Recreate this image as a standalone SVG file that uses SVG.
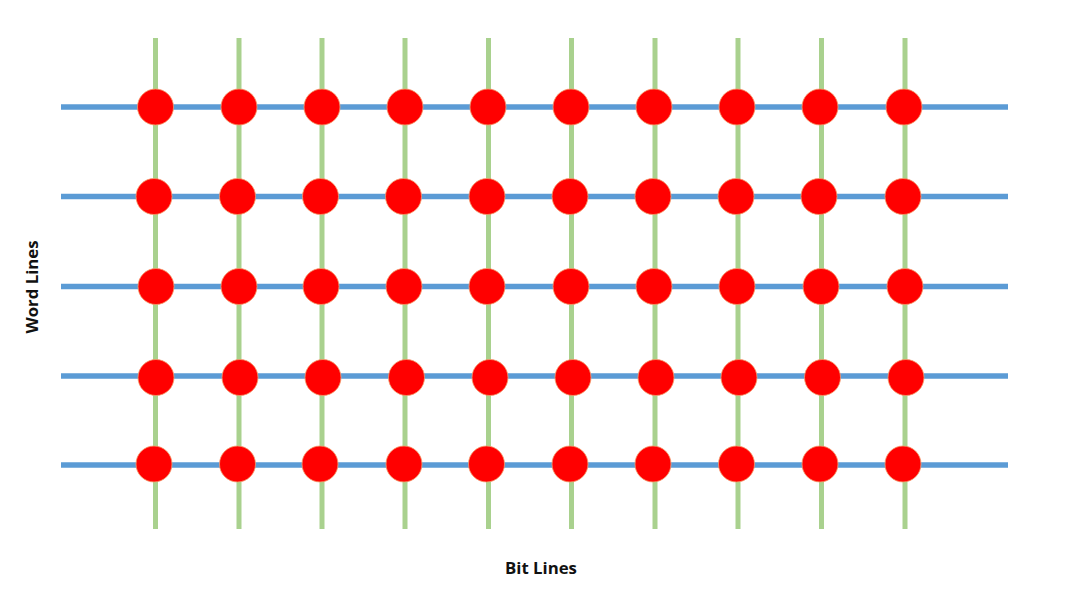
<svg xmlns="http://www.w3.org/2000/svg" width="1080" height="608" viewBox="0 0 1080 608">
<style>
.bit{stroke:#A9D18E;stroke-width:5}
.word{stroke:#5B9BD5;stroke-width:5.5}
.cell{fill:#FF0000;stroke:#F4A070;stroke-width:0.8}
.lbl{font-family:"Open Sans","Liberation Sans",sans-serif;font-weight:bold;font-size:16.8px;fill:#111}
</style>
<rect width="1080" height="608" fill="#FFFFFF"/>
<g id="connectors">
<g id="bit-lines">
<line class="bit" x1="155.5" y1="38" x2="155.5" y2="529"/>
<line class="bit" x1="239" y1="38" x2="239" y2="529"/>
<line class="bit" x1="322" y1="38" x2="322" y2="529"/>
<line class="bit" x1="405" y1="38" x2="405" y2="529"/>
<line class="bit" x1="488.5" y1="38" x2="488.5" y2="529"/>
<line class="bit" x1="571.5" y1="38" x2="571.5" y2="529"/>
<line class="bit" x1="655" y1="38" x2="655" y2="529"/>
<line class="bit" x1="738" y1="38" x2="738" y2="529"/>
<line class="bit" x1="821.5" y1="38" x2="821.5" y2="529"/>
<line class="bit" x1="905" y1="38" x2="905" y2="529"/>
</g>
<g id="word-lines">
<line class="word" x1="61" y1="107" x2="1008" y2="107"/>
<line class="word" x1="61" y1="196.5" x2="1008" y2="196.5"/>
<line class="word" x1="61" y1="286.5" x2="1008" y2="286.5"/>
<line class="word" x1="61" y1="376" x2="1008" y2="376"/>
<line class="word" x1="61" y1="465" x2="1008" y2="465"/>
</g>
</g>
<g id="row1">
<circle class="cell" cx="155.5" cy="107" r="18"/>
<circle class="cell" cx="239" cy="107" r="18"/>
<circle class="cell" cx="322" cy="107" r="18"/>
<circle class="cell" cx="405" cy="107" r="18"/>
<circle class="cell" cx="488" cy="107" r="18"/>
<circle class="cell" cx="571" cy="107" r="18"/>
<circle class="cell" cx="654" cy="107" r="18"/>
<circle class="cell" cx="737" cy="107" r="18"/>
<circle class="cell" cx="820" cy="107" r="18"/>
<circle class="cell" cx="904" cy="107" r="18"/>
</g>
<g id="row2">
<circle class="cell" cx="154" cy="196.5" r="18"/>
<circle class="cell" cx="237.5" cy="196.5" r="18"/>
<circle class="cell" cx="320.5" cy="196.5" r="18"/>
<circle class="cell" cx="403.5" cy="196.5" r="18"/>
<circle class="cell" cx="487" cy="196.5" r="18"/>
<circle class="cell" cx="570" cy="196.5" r="18"/>
<circle class="cell" cx="653" cy="196.5" r="18"/>
<circle class="cell" cx="736" cy="196.5" r="18"/>
<circle class="cell" cx="819" cy="196.5" r="18"/>
<circle class="cell" cx="903" cy="196.5" r="18"/>
</g>
<g id="row3">
<circle class="cell" cx="156" cy="286.5" r="18"/>
<circle class="cell" cx="239" cy="286.5" r="18"/>
<circle class="cell" cx="321" cy="286.5" r="18"/>
<circle class="cell" cx="404" cy="286.5" r="18"/>
<circle class="cell" cx="487" cy="286.5" r="18"/>
<circle class="cell" cx="571" cy="286.5" r="18"/>
<circle class="cell" cx="654" cy="286.5" r="18"/>
<circle class="cell" cx="737" cy="286.5" r="18"/>
<circle class="cell" cx="821" cy="286.5" r="18"/>
<circle class="cell" cx="905" cy="286.5" r="18"/>
</g>
<g id="row4">
<circle class="cell" cx="156" cy="377.5" r="18"/>
<circle class="cell" cx="240" cy="377.5" r="18"/>
<circle class="cell" cx="323" cy="377.5" r="18"/>
<circle class="cell" cx="406.5" cy="377.5" r="18"/>
<circle class="cell" cx="490" cy="377.5" r="18"/>
<circle class="cell" cx="573" cy="377.5" r="18"/>
<circle class="cell" cx="656" cy="377.5" r="18"/>
<circle class="cell" cx="739" cy="377.5" r="18"/>
<circle class="cell" cx="822.5" cy="377.5" r="18"/>
<circle class="cell" cx="906" cy="377.5" r="18"/>
</g>
<g id="row5">
<circle class="cell" cx="154" cy="464" r="18"/>
<circle class="cell" cx="237.5" cy="464" r="18"/>
<circle class="cell" cx="320" cy="464" r="18"/>
<circle class="cell" cx="404" cy="464" r="18"/>
<circle class="cell" cx="486.5" cy="464" r="18"/>
<circle class="cell" cx="570" cy="464" r="18"/>
<circle class="cell" cx="653" cy="464" r="18"/>
<circle class="cell" cx="736.5" cy="464" r="18"/>
<circle class="cell" cx="820" cy="464" r="18"/>
<circle class="cell" cx="903" cy="464" r="18"/>
</g>
<g id="label-word-lines">
<text class="lbl" x="0" y="0" text-anchor="middle" transform="translate(38,287) rotate(-90)">Word Lines</text>
</g>
<g id="label-bit-lines">
<text class="lbl" x="541" y="574" text-anchor="middle">Bit Lines</text>
</g>
</svg>
